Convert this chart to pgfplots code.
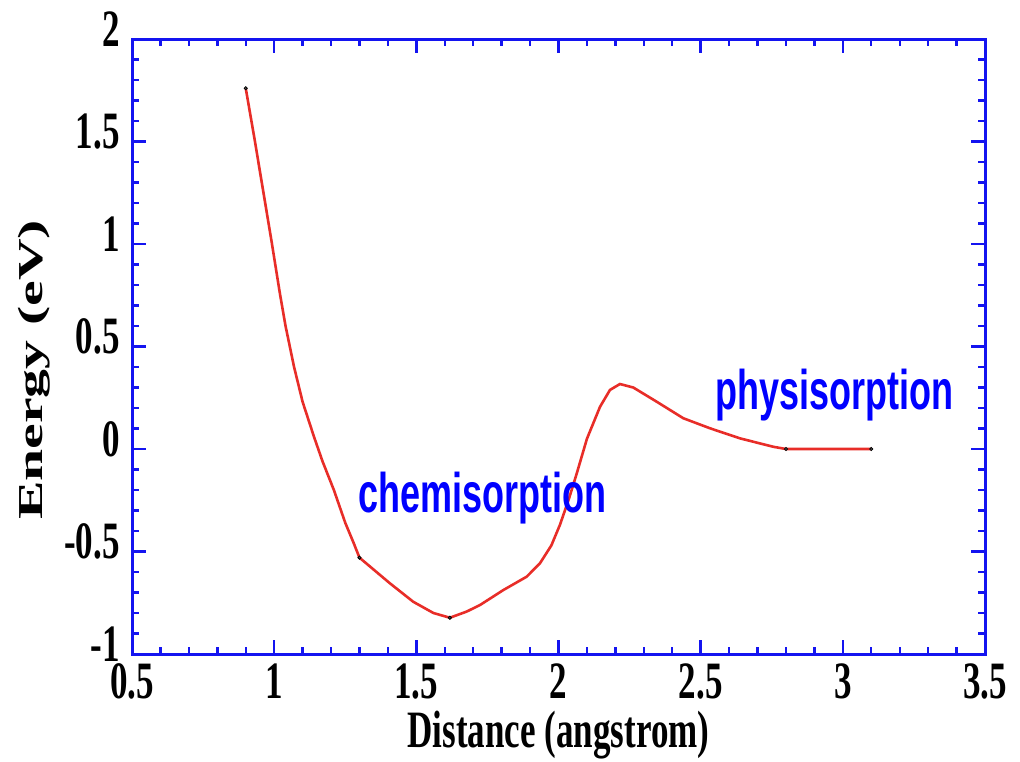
\documentclass[border=0pt]{standalone}
\usepackage{fontspec}
\setmainfont{Liberation Serif}
\newfontfamily\annfont{Liberation Sans}
\usepackage{graphicx}
\usepackage{pgfplots}
\pgfplotsset{compat=1.18}

\definecolor{frameblue}{RGB}{20,20,240}
\definecolor{textblue}{RGB}{0,0,255}
\definecolor{curvered}{RGB}{232,45,40}

% all text in this figure is set tall and narrow
\newcommand{\tall}[1]{\scalebox{1}[1.5]{#1}}
\newcommand{\labfont}{\fontsize{17.5}{20}\selectfont\bfseries}

\begin{document}
\begin{tikzpicture}
\useasboundingbox (-66pt,-53.5pt) rectangle (444pt,327pt);
\begin{axis}[
  scale only axis,
  width=426.5pt, height=307.5pt,
  xmin=0.5, xmax=3.5, ymin=-1, ymax=2,
  xtick={0.5,1,...,3.5},
  ytick={-1,-0.5,...,2},
  minor x tick num=4, minor y tick num=4,
  tick align=inside,
  axis line style={frameblue, line width=1.5pt},
  tick style={frameblue, line width=1.2pt},
  major tick length=7pt, minor tick length=3.5pt,
  /pgf/number format/assume math mode=true,
  xticklabel={\tall{\pgfmathprintnumber{\tick}}},
  yticklabel={\tall{\pgfmathprintnumber{\tick}}},
  xticklabel style={font=\labfont, inner sep=0pt, anchor=north, yshift=-4.5pt},
  yticklabel style={font=\labfont, inner sep=0pt, anchor=east, xshift=-6pt, yshift=5pt},
  xlabel={\tall{Distance (angstrom)}},
  xlabel style={font=\labfont, inner sep=0pt,
    at={(axis description cs:0.5,-0.1528)}, anchor=base},
  ylabel={\scalebox{1.65}[1]{Energy (eV)}},
  ylabel style={font=\labfont, inner sep=0pt,
    at={(axis description cs:-0.1336,0.4618)}, anchor=north},
]
% potential energy curve
\addplot[curvered, line width=1.3pt] coordinates {
  (0.900, 1.76) (0.930, 1.52) (0.960, 1.27) (0.990, 1.02) (1.020, 0.76)
  (1.040, 0.60) (1.070, 0.40) (1.100, 0.23) (1.140, 0.06) (1.170, -0.06)
  (1.210, -0.20) (1.250, -0.36) (1.280, -0.46) (1.300, -0.53)
  (1.407, -0.655) (1.489, -0.745) (1.560, -0.80) (1.618, -0.823)
  (1.677, -0.793) (1.724, -0.761) (1.806, -0.688) (1.888, -0.623)
  (1.935, -0.557) (1.975, -0.47) (2.005, -0.37) (2.035, -0.25)
  (2.064, -0.12) (2.100, 0.05) (2.146, 0.206) (2.181, 0.288)
  (2.216, 0.317) (2.263, 0.30) (2.345, 0.231) (2.439, 0.15)
  (2.533, 0.101) (2.638, 0.052) (2.755, 0.011) (2.800, 0.0) (3.100, 0.0)
};
% computed points
\addplot[only marks, mark=*, mark size=0.8pt, draw=none, fill=black!65] coordinates {
  (0.900, 1.76) (1.300, -0.53) (1.618, -0.823) (2.800, 0.0) (3.100, 0.0)
};
\node[anchor=base, text=textblue, inner sep=0pt,
      font=\annfont\fontsize{18}{20}\selectfont\bfseries]
  at (axis cs:1.731,-0.312) {\scalebox{1}[1.55]{chemisorption}};
\node[anchor=base, text=textblue, inner sep=0pt,
      font=\annfont\fontsize{18}{20}\selectfont\bfseries]
  at (axis cs:2.972,0.195) {\scalebox{1}[1.55]{physisorption}};
\end{axis}
\end{tikzpicture}
\end{document}
